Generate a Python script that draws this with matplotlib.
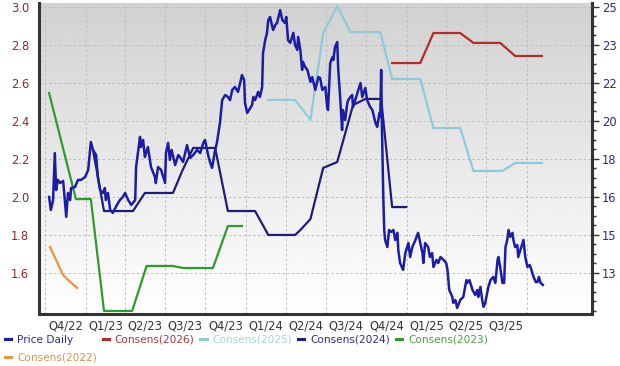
import matplotlib
matplotlib.use("Agg")
import matplotlib.pyplot as plt
import matplotlib.dates as mdates
from matplotlib.lines import Line2D
from matplotlib.ticker import FixedLocator, FixedFormatter, NullFormatter
import numpy as np
import pandas as pd

# ---------------- data ----------------
price_dates = [
    "2022-10-10", "2022-10-14", "2022-10-19", "2022-10-23", "2022-10-26", "2022-10-30",
    "2022-11-04", "2022-11-11", "2022-11-18", "2022-11-22", "2022-11-27", "2022-11-29",
    "2022-12-08", "2022-12-15", "2022-12-22", "2022-12-31", "2023-01-07", "2023-01-13",
    "2023-01-18", "2023-01-25", "2023-01-29", "2023-02-03", "2023-02-10", "2023-02-14",
    "2023-02-16", "2023-02-21", "2023-02-26", "2023-03-04", "2023-03-11", "2023-03-20",
    "2023-03-27", "2023-04-01", "2023-04-08", "2023-04-15", "2023-04-24", "2023-04-26",
    "2023-05-05", "2023-05-07", "2023-05-12", "2023-05-16", "2023-05-23", "2023-05-30",
    "2023-06-08", "2023-06-10", "2023-06-15", "2023-06-22", "2023-07-01", "2023-07-03",
    "2023-07-08", "2023-07-12", "2023-07-16", "2023-07-24", "2023-07-31", "2023-08-04",
    "2023-08-11", "2023-08-20", "2023-08-27", "2023-09-03", "2023-09-12", "2023-09-19",
    "2023-09-26", "2023-09-30", "2023-10-07", "2023-10-12", "2023-10-16", "2023-10-23",
    "2023-10-27", "2023-11-03", "2023-11-08", "2023-11-15", "2023-11-21", "2023-11-26",
    "2023-12-01", "2023-12-07", "2023-12-14", "2023-12-19", "2023-12-23", "2023-12-28",
    "2023-12-30", "2024-01-04", "2024-01-11", "2024-01-15", "2024-01-18", "2024-01-22",
    "2024-01-29", "2024-02-02", "2024-02-07", "2024-02-09", "2024-02-14", "2024-02-18",
    "2024-02-21", "2024-02-25", "2024-03-03", "2024-03-08", "2024-03-12", "2024-03-19",
    "2024-03-24", "2024-03-30", "2024-04-02", "2024-04-06", "2024-04-11", "2024-04-18",
    "2024-04-22", "2024-04-27", "2024-04-29", "2024-05-04", "2024-05-08", "2024-05-10",
    "2024-05-15", "2024-05-20", "2024-05-27", "2024-05-31", "2024-06-07", "2024-06-14",
    "2024-06-18", "2024-06-23", "2024-06-30", "2024-07-04", "2024-07-06", "2024-07-11",
    "2024-07-16", "2024-07-18", "2024-07-22", "2024-07-27", "2024-07-29", "2024-08-03",
    "2024-08-07", "2024-08-09", "2024-08-14", "2024-08-19", "2024-08-21", "2024-08-26",
    "2024-08-30", "2024-09-01", "2024-09-06", "2024-09-13", "2024-09-18", "2024-09-22",
    "2024-09-29", "2024-10-03", "2024-10-06", "2024-10-10", "2024-10-15", "2024-10-22",
    "2024-10-26", "2024-10-31", "2024-11-02", "2024-11-04", "2024-11-06", "2024-11-09",
    "2024-11-11", "2024-11-13", "2024-11-18", "2024-11-22", "2024-11-27", "2024-12-02",
    "2024-12-06", "2024-12-11", "2024-12-13", "2024-12-17", "2024-12-24", "2024-12-29",
    "2025-01-05", "2025-01-09", "2025-01-14", "2025-01-21", "2025-01-27", "2025-02-01",
    "2025-02-06", "2025-02-08", "2025-02-12", "2025-02-19", "2025-02-23", "2025-02-28",
    "2025-03-03", "2025-03-10", "2025-03-14", "2025-03-19", "2025-03-26", "2025-04-01",
    "2025-04-04", "2025-04-08", "2025-04-15", "2025-04-17", "2025-04-22", "2025-04-26",
    "2025-05-03", "2025-05-10", "2025-05-17", "2025-05-19", "2025-05-24", "2025-05-31",
    "2025-06-06", "2025-06-11", "2025-06-13", "2025-06-18", "2025-06-22", "2025-06-25",
    "2025-06-29", "2025-07-06", "2025-07-11", "2025-07-17", "2025-07-22", "2025-07-27",
    "2025-07-29", "2025-08-02", "2025-08-07", "2025-08-11", "2025-08-14", "2025-08-18",
    "2025-08-21", "2025-08-25", "2025-08-30", "2025-09-01", "2025-09-05", "2025-09-10",
    "2025-09-12", "2025-09-17", "2025-09-22", "2025-09-24", "2025-09-28", "2025-10-03",
    "2025-10-08", "2025-10-10", "2025-10-17", "2025-10-22", "2025-10-26", "2025-10-29",
    "2025-11-02", "2025-11-07",
]
price_values = [
    16.43, 15.84, 16.29, 18.41, 16.74, 17.20,
    17.06, 17.15, 15.53, 16.61, 16.29, 16.83,
    16.88, 17.20, 17.20, 17.33, 17.65, 18.91,
    18.55, 18.32, 17.33, 16.74, 16.61, 16.83,
    16.29, 16.61, 15.84, 15.71, 15.98, 16.29,
    16.43, 16.61, 16.29, 16.07, 16.29, 17.78,
    19.14, 18.68, 19.00, 18.23, 18.68, 17.78,
    17.33, 17.06, 17.78, 17.65, 17.06, 18.41,
    18.87, 18.10, 18.55, 17.87, 18.32, 18.23,
    18.01, 18.77, 18.19, 18.32, 18.55, 18.41,
    18.87, 19.00, 18.32, 17.96, 17.74, 18.55,
    18.87, 19.77, 20.80, 21.03, 20.94, 20.80,
    21.26, 21.39, 21.17, 21.57, 21.93, 21.71,
    20.67, 20.22, 20.44, 20.58, 20.94, 20.80,
    21.17, 20.94, 21.39, 22.92, 23.51, 23.83,
    24.41, 24.55, 23.96, 24.19, 24.28, 24.86,
    24.41, 24.28, 24.55, 23.51, 23.38, 23.83,
    23.29, 23.06, 23.65, 23.06, 22.16, 22.52,
    22.29, 22.16, 21.62, 21.84, 21.26, 21.84,
    21.80, 21.26, 21.39, 20.49, 20.35, 22.47,
    22.74, 22.61, 23.20, 23.42, 22.29, 20.80,
    19.45, 20.35, 19.90, 20.67, 20.80, 20.94,
    21.03, 20.49, 20.80, 21.26, 21.57, 20.94,
    21.35, 20.80, 20.67, 20.49, 20.35, 19.77,
    19.59, 20.22, 20.04, 22.16, 19.32, 16.29,
    14.94, 14.49, 14.17, 14.94, 14.85, 14.94,
    14.49, 14.81, 14.04, 13.45, 13.14, 13.90,
    14.35, 13.72, 14.17, 14.49, 14.81, 14.35,
    13.90, 13.45, 14.35, 14.17, 13.72, 13.90,
    13.27, 13.59, 13.45, 13.72, 13.59, 13.45,
    13.14, 12.23, 11.92, 11.65, 11.78, 11.42,
    11.78, 11.92, 12.68, 12.55, 12.68, 12.23,
    12.01, 12.23, 11.92, 12.37, 11.78, 11.47,
    11.65, 12.37, 12.68, 12.82, 12.55, 13.59,
    13.72, 13.27, 12.55, 12.55, 14.17, 14.49,
    14.94, 14.63, 14.81, 14.49, 14.17, 14.26,
    13.72, 14.04, 14.35, 14.49, 13.72, 13.27,
    13.36, 13.27, 12.82, 12.59, 12.59, 12.82,
    12.55, 12.46,
]

cons2026_dates = ["2024-11-29", "2025-02-01", "2025-03-03", "2025-05-03",
                  "2025-06-02", "2025-08-02", "2025-09-05", "2025-11-05"]
cons2026_values = [2.705, 2.705, 2.863, 2.863, 2.811, 2.811, 2.742, 2.742]

cons2025_dates = ["2024-02-21", "2024-04-22", "2024-05-27", "2024-06-25", "2024-07-27",
                  "2024-08-26", "2024-11-02", "2024-11-29", "2025-02-01", "2025-03-03",
                  "2025-05-03", "2025-06-02", "2025-08-07", "2025-09-05", "2025-11-05"]
cons2025_values = [2.511, 2.511, 2.405, 2.863, 3.005, 2.868, 2.868, 2.621, 2.621,
                   2.363, 2.363, 2.137, 2.137, 2.179, 2.179]

cons2024_dates = ["2023-01-18", "2023-02-12", "2023-04-19", "2023-05-16", "2023-07-19",
                  "2023-08-09", "2023-09-03", "2023-10-23", "2023-11-21", "2024-01-22",
                  "2024-02-21", "2024-04-22", "2024-05-04", "2024-05-27", "2024-06-25",
                  "2024-07-27", "2024-09-01", "2024-09-29", "2024-11-04", "2024-11-29",
                  "2024-12-31"]
cons2024_values = [2.247, 1.926, 1.926, 2.021, 2.021, 2.137, 2.258, 2.258, 1.926, 1.926,
                   1.80, 1.80, 1.826, 1.884, 2.153, 2.184, 2.484, 2.516, 2.516, 1.947,
                   1.947]

cons2023_dates = ["2022-10-10", "2022-12-10", "2023-01-13", "2023-02-12", "2023-04-17",
                  "2023-05-20", "2023-07-19", "2023-08-11", "2023-10-18", "2023-11-21",
                  "2023-12-23"]
cons2023_values = [2.547, 1.989, 1.989, 1.40, 1.40, 1.637, 1.637, 1.626, 1.626, 1.847,
                   1.847]

cons2022_dates = ["2022-10-12", "2022-10-28", "2022-11-11", "2022-11-27", "2022-12-13"]
cons2022_values = [1.737, 1.658, 1.589, 1.553, 1.521]

quarter_labels = ["Q4/22", "Q1/23", "Q2/23", "Q3/23", "Q4/23", "Q1/24",
                  "Q2/24", "Q3/24", "Q4/24", "Q1/25", "Q2/25", "Q3/25"]
quarter_bounds = ["2022-10-01", "2023-01-01", "2023-04-01", "2023-07-01", "2023-10-01",
                  "2024-01-01", "2024-04-01", "2024-07-01", "2024-10-01", "2025-01-01",
                  "2025-04-01", "2025-07-01", "2025-10-01"]

eps_ticks = [1.6, 1.8, 2.0, 2.2, 2.4, 2.6, 2.8, 3.0]
# right (price) axis calibration: price value aligned with 1.6 and 3.0 of the left axis
price_at_low, price_at_high = 13.0, 25.0

# ---------------- styling ----------------
C_PRICE = "#1c1ca6"
C_2026 = "#b52a2a"
C_2025 = "#8fcadc"
C_2024 = "#1e1e78"
C_2023 = "#2f9a2f"
C_2022 = "#e6963e"

plt.rcParams["font.family"] = ["DejaVu Sans"]

fig = plt.figure(figsize=(6.2, 3.66), dpi=100)
fig.patch.set_facecolor("white")
ax = fig.add_axes([39 / 620, 1 - 314 / 366, (592 - 39) / 620, (314 - 3) / 366])

xmin = pd.Timestamp("2022-09-17")
xmax = pd.Timestamp("2026-02-27")
ylo, yhi = 1.384, 3.021


def to_price(v):
    return price_at_low + (v - eps_ticks[0]) * (price_at_high - price_at_low) / (eps_ticks[-1] - eps_ticks[0])


# gradient background
grad = np.linspace(1.0, 0.82, 256).reshape(-1, 1)
ax.imshow(grad, extent=[0, 1, 0, 1], transform=ax.transAxes, aspect="auto",
          cmap="gray", vmin=0, vmax=1, origin="lower", zorder=-10)

qb = pd.to_datetime(quarter_bounds)
mids = [qb[i] + (qb[i + 1] - qb[i]) / 2 for i in range(len(quarter_labels))]

series = [
    (cons2026_dates, cons2026_values, C_2026),
    (cons2025_dates, cons2025_values, C_2025),
    (cons2024_dates, cons2024_values, C_2024),
    (cons2023_dates, cons2023_values, C_2023),
    (cons2022_dates, cons2022_values, C_2022),
]
for d, v, c in series:
    ax.plot(pd.to_datetime(d), v, color=c, lw=1.6, solid_joinstyle="round", zorder=3)

ax.set_xlim(xmin, xmax)
ax.set_ylim(ylo, yhi)

ax.xaxis.set_major_locator(FixedLocator(mdates.date2num(qb)))
ax.xaxis.set_major_formatter(NullFormatter())
ax.xaxis.set_minor_locator(FixedLocator(mdates.date2num(mids)))
ax.xaxis.set_minor_formatter(FixedFormatter(quarter_labels))
ax.tick_params(axis="x", which="both", length=0)
ax.tick_params(axis="x", which="minor", labelsize=8.3, labelcolor="#333333", pad=4)

ax.set_yticks(eps_ticks)
ax.set_yticklabels([f"{t:.1f}" for t in eps_ticks])
ax.tick_params(axis="y", length=0, labelsize=8.3, labelcolor="#8b2a2a", pad=7)

ax.grid(True, which="major", axis="both", color="#bdbdbd", lw=0.7, ls=(0, (2.5, 2.5)))
ax.set_axisbelow(True)

for s in ["top", "right"]:
    ax.spines[s].set_visible(False)
for s in ["left", "bottom"]:
    ax.spines[s].set_linewidth(2.2)
    ax.spines[s].set_color("#333333")

# price on right axis
ax2 = ax.twinx()
ax2.plot(pd.to_datetime(price_dates), price_values, color=C_PRICE, lw=1.8,
         solid_joinstyle="round", zorder=4)
ax2.set_xlim(xmin, xmax)
ax2.set_ylim(to_price(ylo), to_price(yhi))
pticks = [to_price(t) for t in eps_ticks]
ax2.set_yticks(pticks)
ax2.set_yticklabels([f"{round(p):d}" for p in pticks])
minor_eps = np.arange(eps_ticks[0] - 0.2, eps_ticks[-1] + 0.01, 0.05)
ax2.set_yticks([to_price(m) for m in minor_eps if ylo <= m <= yhi], minor=True)
ax2.tick_params(axis="y", which="major", length=5, width=1.0, color="#333333",
                labelsize=8.3, labelcolor="#2a2a8c", pad=2)
ax2.tick_params(axis="y", which="minor", length=3, width=1.0, color="#333333")
for s in ["top", "left", "bottom"]:
    ax2.spines[s].set_visible(False)
ax2.spines["right"].set_linewidth(2.2)
ax2.spines["right"].set_color("#333333")

# legend
labels = ["Price Daily", "Consens(2022)", "Consens(2026)", "Consens(2025)",
          "Consens(2024)", "Consens(2023)"]
colors = [C_PRICE, C_2022, C_2026, C_2025, C_2024, C_2023]
text_colors = ["#2e2e9a", "#d39552", "#a33a3a", "#a6d3e2", "#2e2e80", "#4c9c4c"]
handles = [Line2D([0], [0], color=c, lw=2.2) for c in colors]
leg = fig.legend(handles, labels, ncol=5, loc="upper left",
                 bbox_to_anchor=(5 / 620, 1 - 335 / 366), frameon=False,
                 fontsize=7.6, handlelength=0.6, handletextpad=0.55,
                 columnspacing=0.55, borderaxespad=0, borderpad=0, labelspacing=0.75)
for t, c in zip(leg.get_texts(), text_colors):
    t.set_color(c)

fig.savefig("out.png", dpi=100, facecolor="white")
